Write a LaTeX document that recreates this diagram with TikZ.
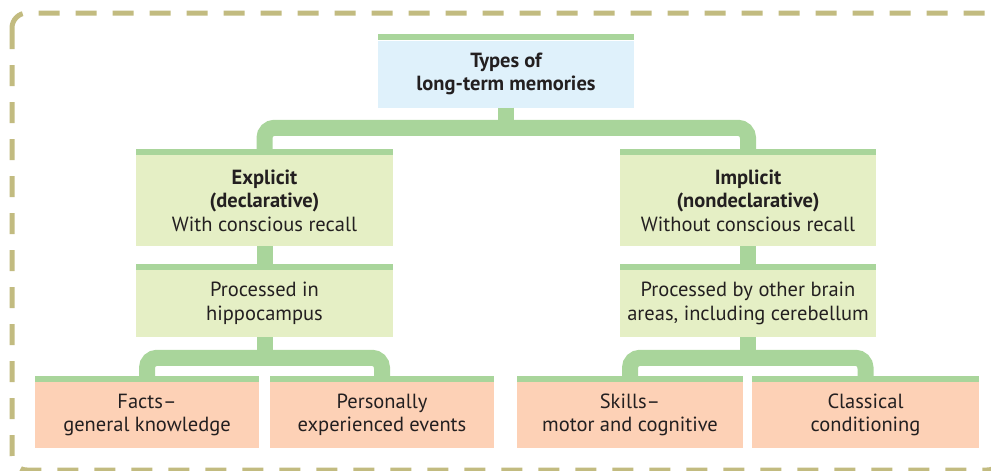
\documentclass[tikz,border=0pt]{standalone}
\usepackage{fontspec}
\setmainfont{PT Sans}
\definecolor{linkgreen}{HTML}{A9D59B}
\definecolor{boxblue}{HTML}{DFF1FB}
\definecolor{boxlime}{HTML}{E5EFC5}
\definecolor{boxpeach}{HTML}{FDD1B6}
\definecolor{frameolive}{HTML}{C2BB80}
\definecolor{inkgray}{HTML}{231F20}
\tikzset{
  memorybox/.style={rectangle, inner sep=0pt, text=inkgray, align=center,
    font=\fontsize{20.5}{23.5}\selectfont,
    append after command={\pgfextra{\fill[linkgreen] (\tikzlastnode.north west)
      rectangle ([yshift=6pt]\tikzlastnode.north east);}}},
  link/.style={draw=linkgreen, line width=16pt, rounded corners=10pt}
}
\begin{document}
\begin{tikzpicture}[x=1pt,y=-1pt]
  \useasboundingbox (0,0) rectangle (991,471);
  % dashed frame
  \begin{scope}
    \clip (0,0) rectangle (991,471);
    \draw[frameolive, line width=5pt, dash pattern=on 21pt off 16pt,
      rounded corners=15pt] (12,13) rectangle (1002,470);
  \end{scope}
  % boxes
  \node[memorybox, fill=boxblue, minimum width=256pt, minimum height=67pt, font=\fontsize{20.5}{23.5}\selectfont\bfseries]
    (types) at (506,74) {Types of\\long-term memories};
  \node[memorybox, fill=boxlime, minimum width=257pt, minimum height=91pt]
    (expl) at (264.5,200.5) {\textbf{Explicit}\\\textbf{(declarative)}\\With conscious recall};
  \node[memorybox, fill=boxlime, minimum width=256pt, minimum height=91pt]
    (impl) at (748,200.5) {\textbf{Implicit}\\\textbf{(nondeclarative)}\\Without conscious recall};
  \node[memorybox, fill=boxlime, minimum width=257pt, minimum height=67pt]
    (proca) at (264.5,303.5) {Processed in\\hippocampus};
  \node[memorybox, fill=boxlime, minimum width=256pt, minimum height=67pt]
    (procb) at (748,303.5) {Processed by other brain\\areas, including cerebellum};
  \node[memorybox, fill=boxpeach, minimum width=224pt, minimum height=66pt]
    (facts) at (147,415) {Facts–\\general knowledge};
  \node[memorybox, fill=boxpeach, minimum width=224pt, minimum height=66pt]
    (events) at (382,415) {Personally\\experienced events};
  \node[memorybox, fill=boxpeach, minimum width=226pt, minimum height=66pt]
    (skills) at (630,415) {Skills–\\motor and cognitive};
  \node[memorybox, fill=boxpeach, minimum width=227pt, minimum height=66pt]
    (cond) at (865.5,415) {Classical\\conditioning};
  % connectors
  \draw[link] (types.south) -- ++(0,21);
  \draw[link] (expl.north) -- ++(0,-27) -| (impl.north);
  \draw[link] (expl.south) -- (proca.north);
  \draw[link] (impl.south) -- (procb.north);
  \draw[link] (proca.south) -- ++(0,21);
  \draw[link] (facts.north) -- ++(0,-24) -| (events.north);
  \draw[link] (procb.south) -- ++(0,21);
  \draw[link] (skills.north) -- ++(0,-24) -| (cond.north);
\end{tikzpicture}
\end{document}
